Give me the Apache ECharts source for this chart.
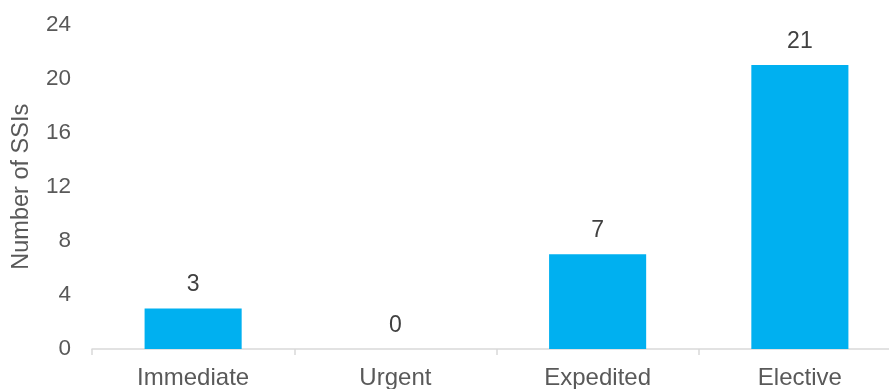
<!DOCTYPE html>
<html>
<head>
<meta charset="utf-8">
<script src="https://cdn.jsdelivr.net/npm/echarts@6/dist/echarts.min.js"></script>
<style>
html,body{margin:0;padding:0;background:#fff;}
#main{width:889px;height:389px;}
</style>
</head>
<body>
<div id="main"></div>
<script>
const categories = ["Immediate", "Urgent", "Expedited", "Elective"];
const values = [3, 0, 7, 21];
const yTicks = [0, 4, 8, 12, 16, 20, 24];

const chart = echarts.init(document.getElementById('main'), null, {renderer: 'canvas'});
const font = '"Liberation Sans", Arial, sans-serif';
chart.setOption({
  animation: false,
  grid: {left: 92, width: 809, top: 24.5, bottom: 40, containLabel: false, outerBoundsMode: 'none'},
  xAxis: {
    type: 'category',
    data: categories,
    axisLine: {show: true, lineStyle: {color: '#d9d9d9', width: 1.5}},
    axisTick: {show: true, length: 6, lineStyle: {color: '#d9d9d9', width: 1.5}},
    axisLabel: {color: '#595959', fontSize: 24, fontFamily: font, margin: 17}
  },
  yAxis: {
    type: 'value',
    min: yTicks[0],
    max: yTicks[yTicks.length - 1],
    interval: 4,
    name: 'Number of SSIs',
    nameLocation: 'middle',
    nameGap: 58,
    nameTextStyle: {color: '#595959', fontSize: 23.5, fontFamily: font},
    splitLine: {show: false},
    axisLine: {show: false},
    axisTick: {show: false},
    axisLabel: {color: '#595959', fontSize: 22.5, fontFamily: font, margin: 21}
  },
  series: [{
    type: 'bar',
    data: values,
    barWidth: '48%',
    itemStyle: {color: '#00B0F0'},
    label: {show: true, position: 'top', distance: 12, color: '#404040', fontSize: 23, fontFamily: font}
  }]
});
</script>
</body>
</html>
